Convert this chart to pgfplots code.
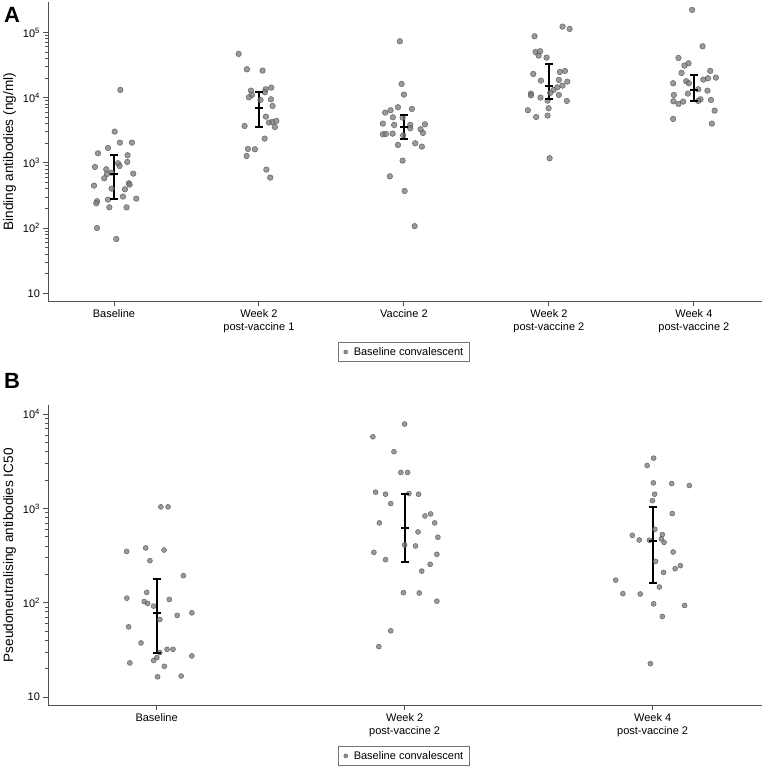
\documentclass[border=0pt]{standalone}
\usepackage{fontspec}
\setmainfont{Liberation Sans}
\usepackage{pgfplots}
\pgfplotsset{compat=1.18}
\usepackage{pgfplotstable}

\definecolor{dotfill}{RGB}{120,120,120}
\definecolor{dotedge}{RGB}{85,85,85}
\definecolor{axgray}{RGB}{80,80,80}

% binding antibodies, x = category index + jitter
\pgfplotstableread{
x y
0.044 13150
0.005 3020
-0.110 1404
-0.041 1695
0.041 2046
0.124 2046
0.094 1309
0.092 1033
0.028 986
0.039 897
-0.131 866
-0.053 798
-0.016 709
-0.048 677
0.133 684
-0.067 580
0.103 487
0.108 464
-0.138 448
-0.016 403
0.076 394
0.062 304
0.154 283
-0.041 273
-0.117 258
-0.122 240
-0.032 208
0.087 208
-0.117 100
0.016 68
0.860 46880
0.917 27280
1.025 26030
1.085 14260
1.046 13450
0.945 12830
1.041 12100
0.952 11020
0.931 10140
1.011 9230
1.083 9440
1.094 7460
1.048 5125
1.069 4150
1.092 4250
1.120 4400
0.901 3680
1.110 3555
1.039 2356
0.924 1636
0.972 1617
0.915 1277
1.051 789
1.078 595
1.972 73280
1.984 16250
2.000 11150
1.959 7130
2.055 6720
1.908 6410
1.871 5900
1.924 5000
1.991 4940
1.855 4000
1.933 3815
2.044 3815
2.145 3905
2.044 3395
2.115 3275
2.131 2877
1.855 2746
1.876 2780
1.922 2812
1.995 2650
1.959 1883
2.078 1998
2.124 1776
1.991 1083
1.903 623
2.005 371
2.074 107
3.094 123000
3.143 113300
2.901 87400
2.908 50260
2.940 51500
2.929 44200
2.984 41140
2.892 23100
3.111 25700
3.076 24800
2.945 18280
3.069 18710
3.127 17630
3.094 15310
3.058 14430
3.032 13150
3.009 11830
2.876 11550
2.876 10890
3.069 11020
2.942 10030
2.991 9020
3.124 8910
2.855 6410
2.998 6880
2.912 5060
2.991 5305
3.005 1178
3.988 221800
4.060 61400
3.894 40630
3.963 33700
3.935 31030
3.915 23950
4.113 25700
4.152 20310
4.097 19850
4.065 18930
3.947 17870
3.965 16640
3.857 16640
4.030 13450
4.094 12830
3.862 11020
3.959 11550
4.046 9440
4.030 8910
4.118 9230
3.859 8810
3.894 8020
3.926 8710
4.143 6340
3.857 4720
4.124 4000
}\bindingdata

% geometric mean with lower and upper limit
\pgfplotstableread{
x mid lo hi
0 668 283 1309
1 6890 3600 12100
2 3600 2302 5430
3 15140 9570 32500
4 13300 8910 22070
}\bindingci

% pseudoneutralising antibodies
\pgfplotstableread{
x y
0.017 1042
0.046 1042
-0.044 382
-0.121 351
0.030 363
-0.027 280
0.108 194
-0.040 129
-0.120 112
0.051 108.5
-0.050 103
-0.036 98.4
-0.012 92.2
0.142 78.3
0.083 73.4
0.013 66.5
-0.113 55.6
-0.063 37.5
0.042 32.1
0.066 32.1
0.013 29.6
0.142 27.3
0.001 26.2
-0.012 24.4
-0.108 23.0
0.031 21.2
0.004 16.4
0.099 16.7
1.000 7890
0.872 5780
0.957 4010
0.985 2416
1.012 2416
0.883 1492
0.923 1420
1.017 1444
1.056 1420
0.944 1130
1.105 877
1.082 835
0.898 704
1.121 704
1.054 565
1.134 496
1.000 411
1.044 401
0.876 343
1.130 327
0.923 287
1.103 256
1.069 217
0.995 128
1.059 127
1.130 104
0.944 50.4
0.896 34.3
2.004 3425
1.978 2864
2.003 1874
2.077 1844
2.148 1757
2.008 1420
1.999 1216
2.079 885
2.009 603
1.918 520
2.039 529
1.946 464
1.987 461
2.035 476
2.046 438
2.083 346
2.012 275
2.112 248
2.091 230
2.044 210
1.851 174
2.027 147
1.880 125
1.950 124
2.004 97.5
2.129 93.7
2.039 71.6
1.991 22.6
}\neutdata

\pgfplotstableread{
x mid lo hi
0 78.3 29.6 180
1 628 271 1420
2 449 161 1033
}\neutci

\pgfplotsset{
  every axis/.append style={
    scale only axis, width=714pt,
    axis x line*=bottom, axis y line*=left,
    axis line style={axgray, line width=0.9pt},
    tick align=outside, major tick length=4.5pt,
    tick style={axgray, line width=0.9pt},
    tick label style={font=\fontsize{11}{12.5}\selectfont},
    x tick label style={align=center},
    ylabel style={font=\fontsize{13.6}{15}\selectfont, at={(axis description cs:-0.063,0.5)}, anchor=north, inner sep=0pt},
    legend style={draw=black!55, line width=0.6pt, font=\fontsize{11}{13}\selectfont,
      anchor=center, inner xsep=4pt, inner ysep=3pt},
    clip=false,
  },
  dotlegend/.style={legend image code/.code={\path[draw=none] (0pt,0pt) -- (9pt,0pt);
      \draw[dotedge, fill=dotfill!80, line width=0.4pt] (3pt,0pt) circle (2pt);}},
  cibar/.style={forget plot, black, line width=2pt},
  cimark/.style={forget plot, only marks, mark=-, mark size=4pt, mark options={black, line width=2pt}},
}

\begin{document}
\begin{tikzpicture}
\useasboundingbox (0,0) rectangle (762pt,769pt);

\begin{axis}[
    ymode=log,
    at={(48pt,467.3pt)}, anchor=south west,
    height=300pt,
    xmin=-0.455, xmax=4.47,
    ymin=7.43, ymax=296500,
    xtick={0,1,2,3,4},
    xticklabels={Baseline,{Week 2\\post-vaccine 1},Vaccine 2,{Week 2\\post-vaccine 2},{Week 4\\post-vaccine 2}},
    ytick={10,100,1000,10000,100000},
    minor ytick={},
    yticklabels={10,10\textsuperscript{2},10\textsuperscript{3},10\textsuperscript{4},10\textsuperscript{5}},
    ylabel={Binding antibodies (ng/ml)},
    legend style={at={(0.4986,-0.1677)}},
]
\addplot[only marks, mark=*, mark size=2.8pt,
    mark options={draw=dotedge, fill=dotfill, fill opacity=0.75, draw opacity=0.85, line width=0.5pt},
    dotlegend]
    table[x=x, y=y] {\bindingdata};
\addlegendentry{Baseline convalescent}
% interval lines
\addplot[cibar] coordinates {(0,283) (0,1309)};
\addplot[cibar] coordinates {(1,3600) (1,12100)};
\addplot[cibar] coordinates {(2,2302) (2,5430)};
\addplot[cibar] coordinates {(3,9570) (3,32500)};
\addplot[cibar] coordinates {(4,8910) (4,22070)};
\addplot[cimark] table[x=x, y=lo] {\bindingci};
\addplot[cimark] table[x=x, y=hi] {\bindingci};
\addplot[cimark] table[x=x, y=mid] {\bindingci};
\end{axis}

\begin{axis}[
    ymode=log,
    at={(48pt,63.3pt)}, anchor=south west,
    height=300.7pt,
    xmin=-0.438, xmax=2.441,
    ymin=8.09, ymax=12560,
    xtick={0,1,2},
    xticklabels={Baseline,{Week 2\\post-vaccine 2},{Week 4\\post-vaccine 2}},
    ytick={10,100,1000,10000},
    minor ytick={},
    yticklabels={10,10\textsuperscript{2},10\textsuperscript{3},10\textsuperscript{4}},
    ylabel={Pseudoneutralising antibodies IC50},
    legend style={at={(0.4986,-0.167)}},
]
\addplot[only marks, mark=*, mark size=2.5pt,
    mark options={draw=dotedge, fill=dotfill, fill opacity=0.75, draw opacity=0.85, line width=0.5pt},
    dotlegend]
    table[x=x, y=y] {\neutdata};
\addlegendentry{Baseline convalescent}
\addplot[cibar] coordinates {(0,29.6) (0,180)};
\addplot[cibar] coordinates {(1,271) (1,1420)};
\addplot[cibar] coordinates {(2,161) (2,1033)};
\addplot[cimark] table[x=x, y=lo] {\neutci};
\addplot[cimark] table[x=x, y=hi] {\neutci};
\addplot[cimark] table[x=x, y=mid] {\neutci};
\end{axis}

\node[anchor=north west, inner sep=0pt, font=\bfseries\fontsize{22}{22}\selectfont] at (4pt,762pt) {A};
\node[anchor=north west, inner sep=0pt, font=\bfseries\fontsize{22}{22}\selectfont] at (4pt,396pt) {B};
\end{tikzpicture}
\end{document}
